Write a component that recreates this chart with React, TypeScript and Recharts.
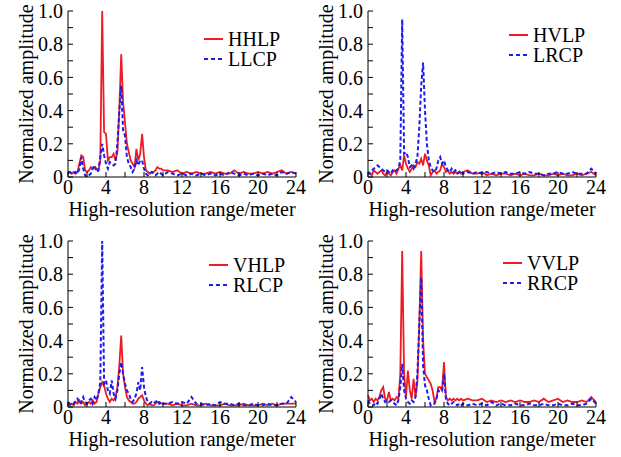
import { LineChart, Line, XAxis, YAxis, Legend } from "recharts";

const RED = "#ed1c24";
const BLUE = "#1c1cf0";
const FONT = "'Liberation Serif', 'Times New Roman', serif";

// range bins (meters)
const xs = [
  0, 0.2, 0.4, 0.6, 0.8, 1.0, 1.2, 1.4, 1.6, 1.8,
  2.0, 2.2, 2.4, 2.6, 2.8, 3.0, 3.2, 3.4, 3.6, 3.8,
  4.0, 4.2, 4.4, 4.6, 4.8, 5.0, 5.2, 5.4, 5.6, 5.8,
  6.0, 6.2, 6.4, 6.6, 6.8, 7.0, 7.2, 7.4, 7.6, 7.8,
  8.0, 8.2, 8.4, 8.6, 8.8, 9.0, 9.2, 9.4, 9.6, 9.8,
  10.0, 10.5, 11, 11.5, 12, 12.5, 13, 13.5, 14, 14.5,
  15, 15.5, 16, 16.5, 17, 17.5, 18, 18.5, 19, 19.5,
  20, 20.5, 21, 21.5, 22, 22.5, 23, 23.5, 24,
];

const hhlp = [
  0.02, 0.03, 0.02, 0.03, 0.02, 0.03, 0.08, 0.13, 0.12, 0.04,
  0.03, 0.04, 0.06, 0.05, 0.06, 0.05, 0.04, 0.1, 1.0, 0.27,
  0.26, 0.1, 0.12, 0.12, 0.14, 0.1, 0.15, 0.4, 0.74, 0.45,
  0.33, 0.2, 0.15, 0.1, 0.08, 0.06, 0.17, 0.1, 0.14, 0.26,
  0.12, 0.04, 0.03, 0.02, 0.03, 0.03, 0.04, 0.06, 0.05, 0.05,
  0.04, 0.04, 0.03, 0.04, 0.02, 0.03, 0.02, 0.03, 0.02, 0.02,
  0.03, 0.02, 0.03, 0.02, 0.02, 0.04, 0.02, 0.03, 0.02, 0.02,
  0.03, 0.02, 0.03, 0.02, 0.03, 0.04, 0.02, 0.03, 0.02,
];
const llcp = [
  0.03, 0.03, 0.02, 0.02, 0.03, 0.02, 0.05, 0.12, 0.05, 0.01,
  0.0, 0.01, 0.02, 0.05, 0.07, 0.03, 0.04, 0.12, 0.2, 0.13,
  0.08, 0.05, 0.09, 0.08, 0.07, 0.08, 0.2, 0.4, 0.55, 0.28,
  0.25, 0.12, 0.08, 0.06, 0.03, 0.05, 0.1, 0.07, 0.1, 0.1,
  0.05, 0.02, 0.01, 0.02, 0.03, 0.02, 0.01, 0.02, 0.03, 0.02,
  0.01, 0.03, 0.02, 0.01, 0.02, 0.01, 0.02, 0.01, 0.02, 0.01,
  0.02, 0.01, 0.02, 0.01, 0.03, 0.02, 0.01, 0.02, 0.01, 0.02,
  0.01, 0.02, 0.01, 0.02, 0.01, 0.03, 0.02, 0.03, 0.02,
];

const hvlp = [
  0.03, 0.02, 0.01, 0.04, 0.03, 0.02, 0.03, 0.04, 0.02, 0.01,
  0.03, 0.02, 0.01, 0.03, 0.04, 0.02, 0.05, 0.07, 0.04, 0.13,
  0.08, 0.05, 0.03, 0.05, 0.07, 0.06, 0.09, 0.08, 0.11, 0.07,
  0.14, 0.1, 0.07, 0.01, 0.03, 0.04, 0.02, 0.03, 0.04, 0.08,
  0.06, 0.03, 0.04, 0.02, 0.03, 0.02, 0.03, 0.02, 0.03, 0.02,
  0.03, 0.04, 0.02, 0.02, 0.03, 0.01, 0.02, 0.01, 0.02, 0.02,
  0.01, 0.02, 0.01, 0.02, 0.01, 0.01, 0.02, 0.01, 0.01, 0.02,
  0.01, 0.02, 0.01, 0.01, 0.02, 0.01, 0.02, 0.03, 0.01,
];
const lrcp = [
  0.03, 0.02, 0.04, 0.05, 0.06, 0.07, 0.06, 0.05, 0.04, 0.03,
  0.04, 0.03, 0.02, 0.04, 0.03, 0.04, 0.05, 0.1, 0.95, 0.14,
  0.15, 0.12, 0.06, 0.07, 0.05, 0.08, 0.12, 0.3, 0.55, 0.69,
  0.4, 0.2, 0.1, 0.06, 0.04, 0.03, 0.05, 0.1, 0.12, 0.08,
  0.1, 0.06, 0.04, 0.03, 0.05, 0.03, 0.04, 0.02, 0.03, 0.04,
  0.02, 0.03, 0.02, 0.03, 0.02, 0.03, 0.02, 0.03, 0.02, 0.03,
  0.02, 0.02, 0.03, 0.02, 0.03, 0.02, 0.02, 0.01, 0.02, 0.02,
  0.03, 0.02, 0.02, 0.03, 0.02, 0.02, 0.02, 0.05, 0.02,
];

const vhlp = [
  0.02, 0.01, 0.02, 0.01, 0.03, 0.02, 0.04, 0.02, 0.03, 0.01,
  0.02, 0.03, 0.02, 0.04, 0.02, 0.03, 0.08, 0.12, 0.15, 0.13,
  0.08, 0.05, 0.03, 0.05, 0.04, 0.06, 0.12, 0.25, 0.43, 0.2,
  0.12, 0.06, 0.04, 0.03, 0.02, 0.02, 0.03, 0.05, 0.06, 0.07,
  0.04, 0.02, 0.01, 0.02, 0.01, 0.01, 0.02, 0.03, 0.03, 0.02,
  0.02, 0.02, 0.01, 0.02, 0.01, 0.01, 0.02, 0.01, 0.01, 0.02,
  0.01, 0.01, 0.01, 0.02, 0.01, 0.01, 0.01, 0.02, 0.01, 0.01,
  0.01, 0.02, 0.01, 0.02, 0.01, 0.02, 0.02, 0.02, 0.02,
];
const rlcp = [
  0.03, 0.02, 0.01, 0.02, 0.04, 0.05, 0.02, 0.03, 0.06, 0.03,
  0.02, 0.04, 0.05, 0.02, 0.06, 0.04, 0.08, 0.15, 1.0, 0.14,
  0.16, 0.1, 0.08, 0.16, 0.08, 0.05, 0.1, 0.2, 0.27, 0.2,
  0.14, 0.1, 0.08, 0.05, 0.03, 0.05, 0.08, 0.15, 0.1, 0.24,
  0.12, 0.06, 0.03, 0.02, 0.03, 0.02, 0.03, 0.04, 0.02, 0.03,
  0.02, 0.02, 0.03, 0.02, 0.03, 0.02, 0.06, 0.02, 0.02, 0.01,
  0.02, 0.01, 0.03, 0.02, 0.02, 0.01, 0.02, 0.01, 0.01, 0.02,
  0.01, 0.01, 0.02, 0.01, 0.01, 0.02, 0.02, 0.06, 0.03,
];

const vvlp = [
  0.07, 0.04, 0.05, 0.03, 0.05, 0.04, 0.06, 0.1, 0.12, 0.05,
  0.04, 0.09, 0.04, 0.05, 0.04, 0.06, 0.05, 0.2, 0.94, 0.2,
  0.06, 0.22, 0.1, 0.05, 0.17, 0.06, 0.15, 0.5, 0.94, 0.4,
  0.2, 0.18, 0.16, 0.14, 0.1, 0.03, 0.05, 0.12, 0.12, 0.1,
  0.27, 0.06, 0.04, 0.05, 0.04, 0.05, 0.04, 0.05, 0.04, 0.05,
  0.04, 0.05, 0.04, 0.04, 0.05, 0.03, 0.04, 0.03, 0.04, 0.03,
  0.04, 0.03, 0.04, 0.03, 0.03, 0.04, 0.03, 0.05, 0.03, 0.04,
  0.05, 0.03, 0.04, 0.03, 0.03, 0.04, 0.03, 0.06, 0.03,
];
const rrcp = [
  0.04, 0.02, 0.01, 0.01, 0.03, 0.02, 0.05, 0.08, 0.05, 0.03,
  0.04, 0.03, 0.04, 0.03, 0.02, 0.01, 0.04, 0.12, 0.26, 0.1,
  0.05, 0.03, 0.02, 0.04, 0.03, 0.06, 0.2, 0.5, 0.78, 0.25,
  0.13, 0.1, 0.05, 0.01, 0.02, 0.02, 0.05, 0.1, 0.09, 0.1,
  0.2, 0.05, 0.02, 0.01, 0.02, 0.03, 0.02, 0.01, 0.02, 0.01,
  0.02, 0.01, 0.02, 0.01, 0.02, 0.01, 0.03, 0.01, 0.02, 0.01,
  0.01, 0.02, 0.01, 0.01, 0.02, 0.01, 0.01, 0.02, 0.01, 0.01,
  0.02, 0.01, 0.01, 0.02, 0.01, 0.01, 0.02, 0.05, 0.02,
];

const xTicks = [0, 2, 4, 6, 8, 10, 12, 14, 16, 18, 20, 22, 24];
const xLabels = [0, 4, 8, 12, 16, 20, 24];
const yTicks = [0, 0.1, 0.2, 0.3, 0.4, 0.5, 0.6, 0.7, 0.8, 0.9, 1.0];
const yLabels = ["0", "", "0.2", "", "0.4", "", "0.6", "", "0.8", "", "1.0"];

const tickStyle = { fontSize: 20, fill: "#000", fontFamily: FONT };

function YTitle({ viewBox }: any) {
  const cx = viewBox.x + 26;
  const cy = viewBox.y + viewBox.height / 2;
  return (
    <text x={cx} y={cy} transform={`rotate(-90 ${cx} ${cy})`} textAnchor="middle"
      dominantBaseline="central" fontSize={20} fontFamily={FONT} fill="#000">
      Normalized amplitude
    </text>
  );
}

function XTitle({ viewBox }: any) {
  return (
    <text x={viewBox.x + viewBox.width / 2} y={viewBox.y + 39} textAnchor="middle"
      fontSize={20} fontFamily={FONT} fill="#000">
      High-resolution range/meter
    </text>
  );
}

function PanelLegend({ redName, blueName }: { redName: string; blueName: string }) {
  return (
    <svg width={90} height={44} style={{ display: "block" }}>
      <line x1={0} x2={19} y1={10} y2={10} stroke={RED} strokeWidth={2} />
      <text x={24} y={10} dominantBaseline="central" fontSize={20} fontFamily={FONT} fill="#000">{redName}</text>
      <line x1={0} x2={19} y1={30} y2={30} stroke={BLUE} strokeWidth={2} strokeDasharray="4 3" />
      <text x={24} y={30} dominantBaseline="central" fontSize={20} fontFamily={FONT} fill="#000">{blueName}</text>
    </svg>
  );
}

interface PanelProps {
  red: number[];
  blue: number[];
  redName: string;
  blueName: string;
  left: number;
  top: number;
  legendX: number;
  legendY: number;
}

function Panel({ red, blue, redName, blueName, left, top, legendX, legendY }: PanelProps) {
  const data = xs.map((x, i) => ({ x, red: red[i], blue: blue[i] }));
  return (
    <div style={{ position: "absolute", left, top }}>
      <LineChart width={310} height={228} data={data}
        margin={{ top: 11, right: 14, bottom: 0, left: 0 }}>
        <XAxis dataKey="x" type="number" domain={[0, 24]} ticks={xTicks} interval={0}
          tickFormatter={(v) => (xLabels.includes(v) ? String(v) : "")}
          tick={tickStyle} tickSize={-5} tickMargin={8} height={51}
          axisLine={{ stroke: "#000" }} tickLine={{ stroke: "#000" }}
          label={<XTitle />} />
        <XAxis xAxisId="top" orientation="top" dataKey="x" type="number" domain={[0, 24]}
          ticks={xTicks} interval={0} tick={false} tickSize={-5} height={0}
          axisLine={{ stroke: "#000" }} tickLine={{ stroke: "#000" }} />
        <YAxis type="number" domain={[0, 1]} ticks={yTicks} interval={0} allowDataOverflow
          tickFormatter={(v, i) => yLabels[i] ?? ""}
          tick={tickStyle} tickSize={-5} tickMargin={10} width={68}
          axisLine={{ stroke: "#000" }} tickLine={{ stroke: "#000" }}
          label={<YTitle />} />
        <YAxis yAxisId="r" orientation="right" type="number" domain={[0, 1]} ticks={yTicks}
          interval={0} tick={false} tickSize={-5} width={0}
          axisLine={{ stroke: "#000" }} tickLine={{ stroke: "#000" }} />
        <Legend layout="vertical" align="center" verticalAlign="middle"
          wrapperStyle={{ left: legendX, top: legendY, width: 90 }}
          content={() => <PanelLegend redName={redName} blueName={blueName} />} />
        <Line dataKey="red" type="linear" stroke={RED} strokeWidth={1.8} dot={false}
          activeDot={false} isAnimationActive={false} />
        <Line dataKey="blue" type="linear" stroke={BLUE} strokeWidth={2} strokeDasharray="4 2.5"
          dot={false} activeDot={false} isAnimationActive={false} />
      </LineChart>
    </div>
  );
}

export default function App() {
  return (
    <div style={{ position: "absolute", left: 0, top: 0, width: 621, height: 457,
      background: "#fff", fontFamily: FONT, overflow: "hidden" }}>
      <Panel red={hhlp} blue={llcp} redName="HHLP" blueName="LLCP"
        left={0} top={0} legendX={204} legendY={29} />
      <Panel red={hvlp} blue={lrcp} redName="HVLP" blueName="LRCP"
        left={300} top={0} legendX={209} legendY={25} />
      <Panel red={vhlp} blue={rlcp} redName="VHLP" blueName="RLCP"
        left={0} top={230} legendX={209} legendY={25} />
      <Panel red={vvlp} blue={rrcp} redName="VVLP" blueName="RRCP"
        left={300} top={230} legendX={203} legendY={23} />
    </div>
  );
}
